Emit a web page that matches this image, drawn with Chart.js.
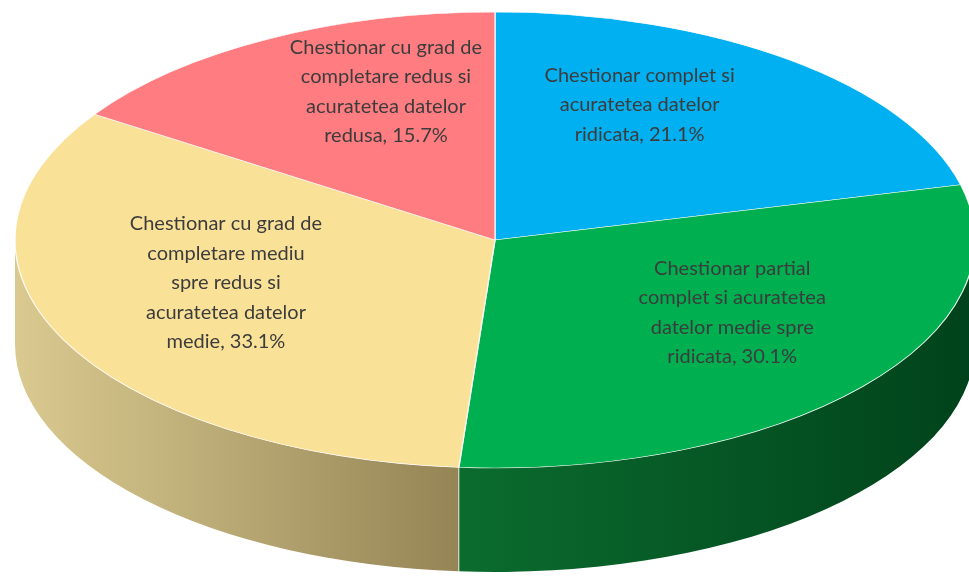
<!DOCTYPE html>
<html>
<head>
<meta charset="utf-8">
<script src="https://cdn.jsdelivr.net/npm/chart.js@4.4.0/dist/chart.umd.min.js"></script>
<style>
  html, body { margin: 0; padding: 0; background: #fff; }
  #wrap { width: 969px; height: 576px; }
</style>
</head>
<body>
<div id="wrap"><canvas id="pieChart" width="969" height="576"></canvas></div>
<script>
// data
const categories = [
  ["Chestionar complet si", "acuratetea datelor", "ridicata"],
  ["Chestionar partial", "complet si acuratetea", "datelor medie spre", "ridicata"],
  ["Chestionar cu grad de", "completare mediu", "spre redus si", "acuratetea datelor", "medie"],
  ["Chestionar cu grad de", "completare redus si", "acuratetea datelor", "redusa"]
];
const percents = [21.1, 30.1, 33.1, 15.7];

const topColors = ["#00B0F0", "#00B050", "#F9E198", "#FF7C80"];
const sideLeftColors = ["#0085B5", "#0B6C2E", "#DACA90", "#C05E61"];
const sideRightColors = ["#005C7E", "#00421B", "#958556", "#8A4446"];

// where the flat pie is projected on the page
const geom = { cx: 495, cy: 240, rx: 480, ry: 228, depth: 104 };
// label placement: fake a little perspective (far side narrower)
const labelFx = 0.576, labelFy = 0.635, labelPersp = 0.19, labelLift = 21;
const lineHeight = 29.5;

const pie3d = {
  id: "pie3d",
  beforeDatasetsDraw(chart) {
    const ctx = chart.ctx;
    const arcs = chart.getDatasetMeta(0).data;
    const a0 = arcs[0];
    const R = a0.outerRadius;
    const { cx, cy, rx, ry, depth } = geom;

    // side wall, only the front half (0..PI) shows
    arcs.forEach((a, i) => {
      const s = Math.max(a.startAngle, 0);
      const e = Math.min(a.endAngle, Math.PI);
      if (e <= s) return;
      const xl = cx + rx * Math.cos(e);
      const xr = cx + rx * Math.cos(s);
      const g = ctx.createLinearGradient(xl, 0, xr, 0);
      g.addColorStop(0, sideLeftColors[i]);
      g.addColorStop(1, sideRightColors[i]);
      ctx.beginPath();
      ctx.ellipse(cx, cy, rx, ry, 0, s, e, false);
      ctx.ellipse(cx, cy + depth, rx, ry, 0, e, s, true);
      ctx.closePath();
      ctx.fillStyle = g;
      ctx.fill();
    });
    // separators on the wall
    ctx.strokeStyle = "rgba(255,255,255,0.8)";
    ctx.lineWidth = 1;
    arcs.forEach((a) => {
      const t = a.startAngle;
      if (t > 0 && t < Math.PI) {
        const x = cx + rx * Math.cos(t), y = cy + ry * Math.sin(t);
        ctx.beginPath();
        ctx.moveTo(x, y);
        ctx.lineTo(x, y + depth);
        ctx.stroke();
      }
    });

    // flatten the chart's own pie onto the top face
    ctx.save();
    ctx.translate(cx, cy);
    ctx.scale(rx / R, ry / R);
    ctx.translate(-a0.x, -a0.y);
  },
  afterDatasetsDraw(chart) {
    const ctx = chart.ctx;
    ctx.restore();
    const arcs = chart.getDatasetMeta(0).data;
    const { cx, cy, rx, ry } = geom;
    ctx.save();
    ctx.font = "20px Lato";
    ctx.fillStyle = "#3c3c3c";
    ctx.textAlign = "center";
    ctx.textBaseline = "middle";
    arcs.forEach((a, i) => {
      const mid = (a.startAngle + a.endAngle) / 2;
      const sn = Math.sin(mid);
      const x = cx + rx * Math.cos(mid) * labelFx * (1 + labelPersp * sn);
      const y = cy - labelLift + ry * sn * labelFy;
      const lines = categories[i].slice();
      lines[lines.length - 1] += ", " + percents[i].toFixed(1) + "%";
      const y0 = y - (lines.length - 1) * lineHeight / 2;
      lines.forEach((ln, k) => ctx.fillText(ln, x, y0 + k * lineHeight));
    });
    ctx.restore();
  }
};

new Chart(document.getElementById("pieChart"), {
  type: "pie",
  data: {
    labels: categories.map((c) => c.join(" ")),
    datasets: [{
      data: percents,
      backgroundColor: topColors,
      borderColor: "rgba(255,255,255,0.85)",
      borderWidth: 0.8,
      clip: false
    }]
  },
  options: {
    responsive: false,
    animation: false,
    plugins: {
      legend: { display: false },
      tooltip: { enabled: false }
    }
  },
  plugins: [pie3d]
});
</script>
</body>
</html>
